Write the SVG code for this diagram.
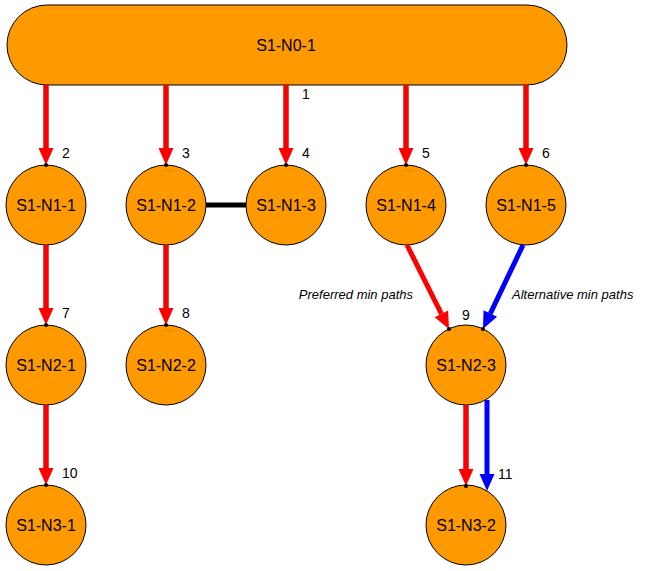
<svg xmlns="http://www.w3.org/2000/svg" width="648" height="571" viewBox="0 0 648 571">
<style>
.node{fill:#ff9900;stroke:#000;stroke-width:1}
.lbl{font-family:"Liberation Sans",Arial,sans-serif;font-size:16px;fill:#000;text-anchor:middle}
.num{font-family:"Liberation Sans",Arial,sans-serif;font-size:14px;fill:#000}
.note{font-family:"Liberation Sans",Arial,sans-serif;font-size:13px;font-style:italic;fill:#000}
.red{stroke:#ff0000;stroke-width:5;fill:none}
.blue{stroke:#0000ff;stroke-width:5;fill:none}
.blk{stroke:#000;stroke-width:5;fill:none}
.edge{stroke:#777;stroke-width:6;fill:none;stroke-opacity:0.7}
.dot{fill:#000}
</style>
<defs>
<marker id="ar" viewBox="0 -8 17 16" refX="0" refY="0" markerWidth="17" markerHeight="16" markerUnits="userSpaceOnUse" orient="auto" overflow="visible">
<path d="M0,-7.5 L17,0 L0,7.5 z" fill="#ff0000"/>
</marker>
<marker id="ab" viewBox="0 -8 17 16" refX="0" refY="0" markerWidth="17" markerHeight="16" markerUnits="userSpaceOnUse" orient="auto" overflow="visible">
<path d="M0,-7.5 L17,0 L0,7.5 z" fill="#0000ff"/>
</marker>
</defs>
<rect width="648" height="571" fill="#fff"/>
<g id="n0"><rect class="node" x="7" y="5" width="560" height="80" rx="40" ry="40"/><text class="lbl" x="286" y="51">S1-N0-1</text></g>
<g id="n1-1"><circle class="node" cx="46" cy="205" r="40"/><text class="lbl" x="46" y="211">S1-N1-1</text></g>
<g id="n1-2"><circle class="node" cx="166" cy="205" r="40"/><text class="lbl" x="166" y="211">S1-N1-2</text></g>
<g id="n1-3"><circle class="node" cx="286" cy="205" r="40"/><text class="lbl" x="286" y="211">S1-N1-3</text></g>
<g id="n1-4"><circle class="node" cx="406" cy="205" r="40"/><text class="lbl" x="406" y="211">S1-N1-4</text></g>
<g id="n1-5"><circle class="node" cx="526" cy="205" r="40"/><text class="lbl" x="526" y="211">S1-N1-5</text></g>
<g id="n2-1"><circle class="node" cx="46" cy="365" r="40"/><text class="lbl" x="46" y="371">S1-N2-1</text></g>
<g id="n2-2"><circle class="node" cx="166" cy="365" r="40"/><text class="lbl" x="166" y="371">S1-N2-2</text></g>
<g id="n2-3"><circle class="node" cx="466" cy="365" r="40"/><text class="lbl" x="466" y="371">S1-N2-3</text></g>
<g id="n3-1"><circle class="node" cx="46" cy="525" r="40"/><text class="lbl" x="46" y="531">S1-N3-1</text></g>
<g id="n3-2"><circle class="node" cx="466" cy="525" r="40"/><text class="lbl" x="466" y="531">S1-N3-2</text></g>
<g id="connectors">
<line class="edge" x1="46" y1="85" x2="46" y2="149"/>
<line class="edge" x1="166" y1="85" x2="166" y2="149"/>
<line class="edge" x1="286" y1="85" x2="286" y2="149"/>
<line class="edge" x1="406" y1="85" x2="406" y2="149"/>
<line class="edge" x1="526" y1="85" x2="526" y2="149"/>
<line class="edge" x1="46" y1="245" x2="46" y2="309"/>
<line class="edge" x1="166" y1="245" x2="166" y2="309"/>
<line class="edge" x1="46" y1="405" x2="46" y2="469"/>
<line class="edge" x1="466" y1="405" x2="466" y2="470"/>
<line class="red" x1="46" y1="85" x2="46" y2="148" marker-end="url(#ar)"/>
<line class="red" x1="166" y1="85" x2="166" y2="148" marker-end="url(#ar)"/>
<line class="red" x1="286" y1="85" x2="286" y2="148" marker-end="url(#ar)"/>
<line class="red" x1="406" y1="85" x2="406" y2="148" marker-end="url(#ar)"/>
<line class="red" x1="526" y1="85" x2="526" y2="148" marker-end="url(#ar)"/>
<line class="blk" x1="206" y1="205" x2="246" y2="205"/>
<line class="red" x1="46" y1="245" x2="46" y2="308" marker-end="url(#ar)"/>
<line class="red" x1="166" y1="245" x2="166" y2="308" marker-end="url(#ar)"/>
<line class="red" x1="407" y1="245" x2="441.4" y2="313.8" marker-end="url(#ar)"/>
<line class="blue" x1="523" y1="245" x2="490.3" y2="313.6" marker-end="url(#ab)"/>
<line class="red" x1="46" y1="405" x2="46" y2="468" marker-end="url(#ar)"/>
<line class="red" x1="466" y1="405" x2="466" y2="469" marker-end="url(#ar)"/>
<line class="blue" x1="487" y1="400" x2="487" y2="474" marker-end="url(#ab)"/>
<circle class="dot" cx="46" cy="165" r="2"/>
<circle class="dot" cx="166" cy="165" r="2"/>
<circle class="dot" cx="286" cy="165" r="2"/>
<circle class="dot" cx="406" cy="165" r="2"/>
<circle class="dot" cx="526" cy="165" r="2"/>
<circle class="dot" cx="46" cy="325" r="2"/>
<circle class="dot" cx="166" cy="325" r="2"/>
<circle class="dot" cx="449" cy="329" r="2"/>
<circle class="dot" cx="483" cy="329" r="2"/>
<circle class="dot" cx="46" cy="485" r="2"/>
<circle class="dot" cx="466" cy="486" r="2"/>
</g>
<g id="labels">
<text class="num" x="302" y="99">1</text>
<text class="num" x="62" y="158">2</text>
<text class="num" x="182" y="158">3</text>
<text class="num" x="302" y="158">4</text>
<text class="num" x="422" y="158">5</text>
<text class="num" x="542" y="158">6</text>
<text class="num" x="62" y="318">7</text>
<text class="num" x="182" y="318">8</text>
<text class="num" x="462" y="320">9</text>
<text class="num" x="62" y="478">10</text>
<text class="num" x="498" y="479">11</text>
<text class="note" x="413" y="299" text-anchor="end">Preferred min paths</text>
<text class="note" x="512" y="299">Alternative min paths</text>
</g>
</svg>
